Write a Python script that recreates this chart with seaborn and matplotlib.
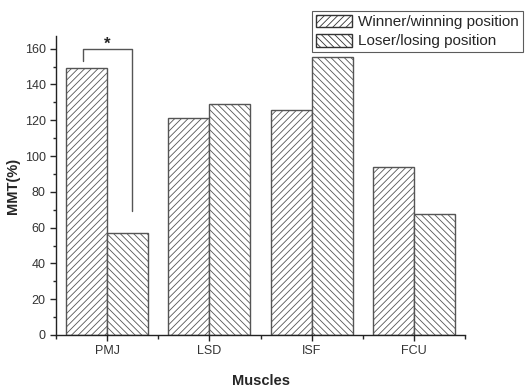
import matplotlib
matplotlib.use("Agg")
import matplotlib.pyplot as plt
from matplotlib.ticker import MultipleLocator, FixedLocator
from matplotlib.patches import Patch
import seaborn as sns
import pandas as pd

muscles = ["PMJ", "LSD", "ISF", "FCU"]
groups = ["Winner/winning position", "Loser/losing position"]
winner = [149, 121, 125.5, 94]
loser = [57, 129, 155.5, 67.5]

data = pd.DataFrame({
    "muscle": muscles * 2,
    "group": [groups[0]] * 4 + [groups[1]] * 4,
    "mmt": winner + loser,
})

sns.set_style("ticks")
plt.rcParams["font.family"] = ["Liberation Sans", "DejaVu Sans"]
plt.rcParams["hatch.linewidth"] = 0.6
plt.rcParams["hatch.color"] = "#222222"

fig = plt.figure(figsize=(5.25, 3.88), dpi=100)
ax = fig.add_axes([0.1067, 0.1366, 0.779, 0.7704])

sns.barplot(data=data, x="muscle", y="mmt", hue="group", order=muscles,
            hue_order=groups, palette=["white", "white"], width=0.8,
            edgecolor="#555555", linewidth=1.0, ax=ax, legend=False)

hatches = ["/////", "\\\\\\\\\\"]
for cont, h in zip(ax.containers, hatches):
    for bar in cont:
        bar.set_hatch(h)

ax.set_xlim(-0.5, 3.5)
ax.set_ylim(0, 167)
ax.yaxis.set_major_locator(MultipleLocator(20))
ax.yaxis.set_minor_locator(MultipleLocator(10))
ax.xaxis.set_minor_locator(FixedLocator([-0.5, 0.5, 1.5, 2.5, 3.5]))
ax.tick_params(axis="x", which="major", direction="inout", length=8, width=1, labelsize=9, colors="#222222", labelcolor="#333333")
ax.tick_params(axis="x", which="minor", direction="out", length=3, width=1)
ax.tick_params(axis="y", which="major", direction="out", length=4, width=1, labelsize=9, labelcolor="#333333")
ax.tick_params(axis="y", which="minor", direction="out", length=2, width=1)
sns.despine(ax=ax)
for s in ["left", "bottom"]:
    ax.spines[s].set_linewidth(1.0)
    ax.spines[s].set_color("#222222")

ax.set_xlabel("Muscles", fontsize=10.5, fontweight="bold", labelpad=12)
ax.set_ylabel("MMT(%)", fontsize=10.5, fontweight="bold", labelpad=3)

# significance bracket
bx = [-0.235, -0.235, 0.245, 0.245]
by = [153, 160, 160, 69.5]
ax.plot(bx, by, color="#555555", lw=1.0, clip_on=False)
ax.text(0.0, 158, "*", ha="center", va="bottom", fontsize=12, fontweight="bold")

handles = [Patch(facecolor="white", edgecolor="#333333", hatch=h, label=g)
           for h, g in zip(hatches, groups)]
leg = fig.legend(handles=handles, loc="upper right", bbox_to_anchor=(0.996, 0.972),
                 fontsize=11, frameon=True, fancybox=False, edgecolor="#333333",
                 borderpad=0.25, labelspacing=0.3, handlelength=2.4, handleheight=0.9,
                 handletextpad=0.4, borderaxespad=0)
leg.get_frame().set_linewidth(0.8)

fig.savefig("out.png", dpi=100)
